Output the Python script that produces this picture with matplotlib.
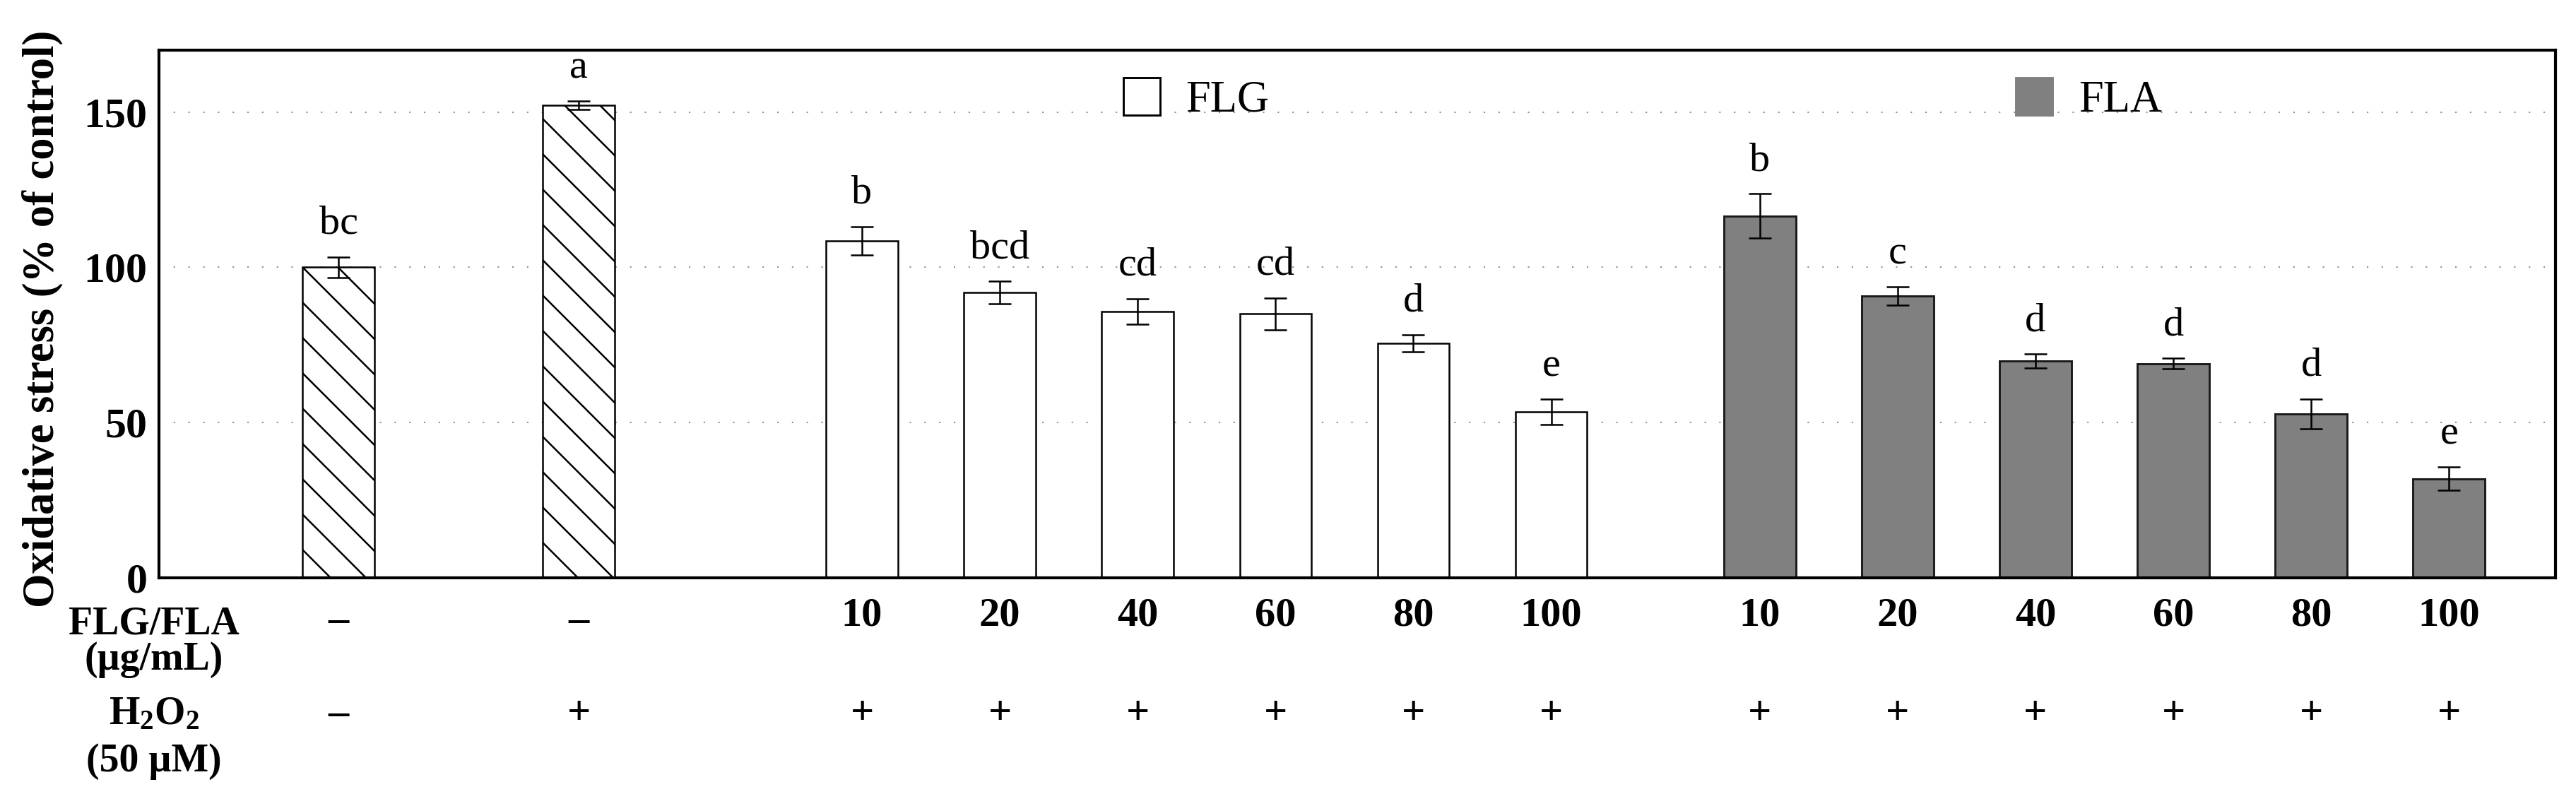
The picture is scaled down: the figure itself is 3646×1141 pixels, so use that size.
#importando
import numpy as np
import matplotlib.pyplot as plt
from matplotlib.patches import Rectangle

plt.rcParams['font.family'] = ['Liberation Serif', 'DejaVu Serif']
plt.rcParams['mathtext.fontset'] = 'custom'
plt.rcParams['mathtext.rm'] = 'Liberation Serif'
plt.rcParams['mathtext.bf'] = 'Liberation Serif:bold'
plt.rcParams['hatch.linewidth'] = 0.6

#dados
ctrl_vals = [100.0, 152.2]
ctrl_err = [3.3, 1.3]
ctrl_letters = ['bc', 'a']
ctrl_dose = ['–', '–']
ctrl_h2o2 = ['–', '+']

conc = ['10', '20', '40', '60', '80', '100']
flg_vals = [108.5, 91.9, 85.8, 85.0, 75.5, 53.4]
flg_err = [4.6, 3.6, 4.1, 5.1, 2.8, 4.1]
flg_letters = ['b', 'bcd', 'cd', 'cd', 'd', 'e']
fla_vals = [116.5, 90.7, 69.8, 69.0, 52.8, 31.9]
fla_err = [7.2, 2.9, 2.3, 1.7, 4.8, 3.8]
fla_letters = ['b', 'c', 'd', 'd', 'd', 'e']
treat_h2o2 = ['+'] * 6

#posicoes das barras
x_ctrl = np.array([1.30, 3.04])
x_flg = 5.09 + np.arange(len(conc)) * 0.998
x_fla = 11.59 + np.arange(len(conc)) * 0.998
w = 0.52

fig = plt.figure(figsize=(3646 / 300, 1141 / 300))
ax = fig.add_axes([0.0617, 0.2831, 0.9303, 0.655])

ax.bar(x_ctrl, ctrl_vals, w, color='white', edgecolor='black', lw=0.6, hatch='\\\\', zorder=2)
ax.bar(x_flg, flg_vals, w, color='white', edgecolor='black', lw=0.6, zorder=2)
ax.bar(x_fla, fla_vals, w, color='#808080', edgecolor='#1a1a1a', lw=0.7, zorder=2)

ekw = dict(fmt='none', ecolor='black', elinewidth=0.6, capsize=3.8, capthick=0.6, zorder=3)
ax.errorbar(x_ctrl, ctrl_vals, yerr=ctrl_err, **ekw)
ax.errorbar(x_flg, flg_vals, yerr=flg_err, **ekw)
ax.errorbar(x_fla, fla_vals, yerr=fla_err, **ekw)

#letras de significancia
for xs, vs, es, ls in [(x_ctrl, ctrl_vals, ctrl_err, ctrl_letters),
                       (x_flg, flg_vals, flg_err, flg_letters),
                       (x_fla, fla_vals, fla_err, fla_letters)]:
    for x, v, e, l in zip(xs, vs, es, ls):
        ax.text(x, v + e + 7.5, l, ha='center', va='baseline', fontsize=14)

#grade e eixos
ax.set_xlim(0, 17.35)
ax.set_ylim(0, 170)
ax.set_yticks([0, 50, 100, 150])
ax.set_yticklabels(['0', '50', '100', '150'], fontweight='bold', fontsize=14.4)
ax.set_xticks([])
ax.tick_params(axis='y', length=0, pad=4)
ax.yaxis.grid(True, color='#909090', lw=0.5, linestyle=(0, (1, 9)))
ax.set_axisbelow(True)
for s in ax.spines.values():
    s.set_linewidth(1.0)

ax.set_ylabel('Oxidative stress (% of control)', fontweight='bold', fontsize=15)
ax.yaxis.set_label_coords(-0.040, 0.49)

#legenda
ax.add_patch(Rectangle((0.4024, 0.8765), 0.01533, 0.0709, transform=ax.transAxes,
                       facecolor='white', edgecolor='black', lw=0.7, clip_on=False))
ax.text(0.4284, 0.8832, 'FLG', transform=ax.transAxes, fontsize=15, va='baseline')
ax.add_patch(Rectangle((0.7748, 0.8765), 0.01533, 0.0709, transform=ax.transAxes,
                       facecolor='#808080', edgecolor='#808080', lw=0.7, clip_on=False))
ax.text(0.801, 0.8832, 'FLA', transform=ax.transAxes, fontsize=15, va='baseline')

#tabela de tratamentos abaixo do eixo
tr = ax.get_xaxis_transform()
for x, d in zip(x_ctrl, ctrl_dose):
    ax.text(x, -0.082, d, transform=tr, ha='center', va='center', fontweight='bold', fontsize=14)
for x, h in zip(x_ctrl, ctrl_h2o2):
    ax.text(x, -0.258, h, transform=tr, ha='center', va='center', fontweight='bold', fontsize=14)
for xs in (x_flg, x_fla):
    for x, c, h in zip(xs, conc, treat_h2o2):
        ax.text(x, -0.091, c, transform=tr, ha='center', va='baseline', fontweight='bold', fontsize=14)
        ax.text(x, -0.258, h, transform=tr, ha='center', va='center', fontweight='bold', fontsize=14)

lab = dict(transform=ax.transAxes, ha='center', va='baseline', fontweight='bold', fontsize=13.4)
ax.text(-0.002, -0.107, 'FLG/FLA', **lab)
ax.text(-0.002, -0.174, '(µg/mL)', **lab)
ax.text(-0.002, -0.277, r'$\mathbf{H_2O_2}$', **lab)
ax.text(-0.002, -0.367, '(50 µM)', **lab)

fig.savefig('out.png', dpi=300)
